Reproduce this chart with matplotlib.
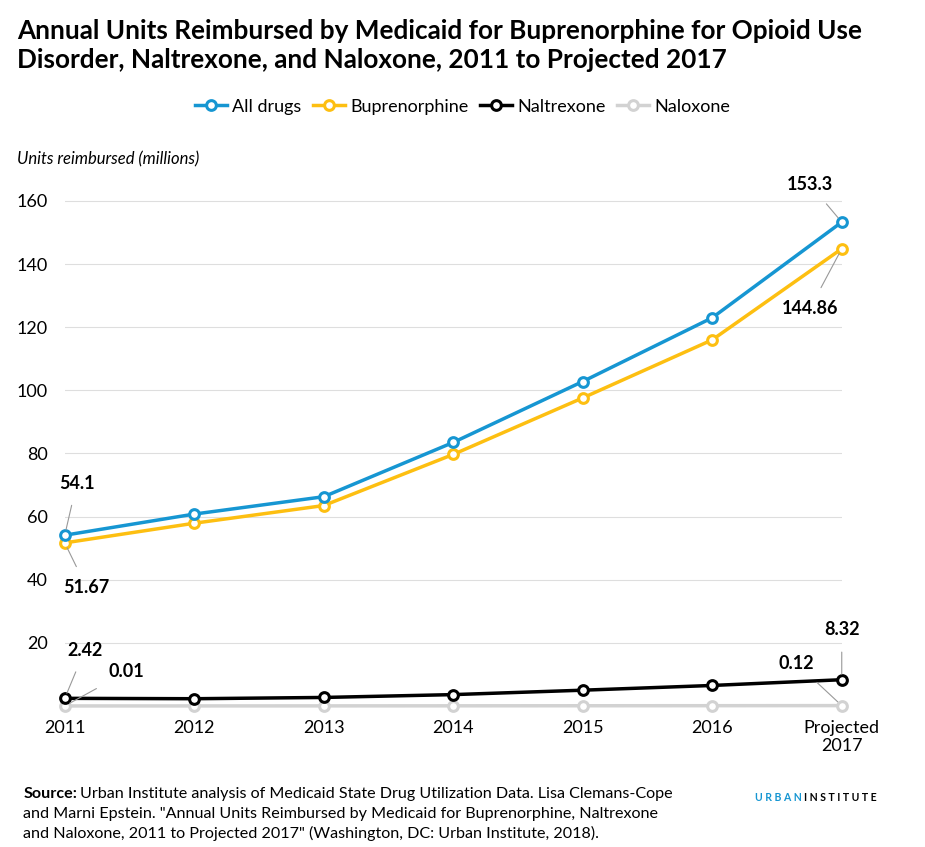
import matplotlib
matplotlib.use("Agg")
import matplotlib.pyplot as plt

years = ["2011", "2012", "2013", "2014", "2015", "2016", "Projected\n2017"]
all_drugs = [54.1, 60.8, 66.3, 83.5, 102.8, 123.0, 153.3]
bupren = [51.67, 57.9, 63.5, 79.7, 97.6, 116.0, 144.86]
naltrex = [2.42, 2.3, 2.7, 3.6, 5.0, 6.5, 8.32]
naloxone = [0.01, 0.02, 0.03, 0.05, 0.07, 0.09, 0.12]

plt.rcParams['font.family'] = ['Lato', 'DejaVu Sans']
fig = plt.figure(figsize=(9.25, 8.47), dpi=100)
ax = fig.add_axes([0.070, 0.1665, 0.840, 0.6335])
x = list(range(len(years)))
series = [("All drugs", all_drugs, "#1696d2"), ("Buprenorphine", bupren, "#fdbf11"),
          ("Naltrexone", naltrex, "#000000"), ("Naloxone", naloxone, "#d2d2d2")]
for name, vals, c in series[::-1]:
    ax.plot(x, vals, color=c, lw=2.5, marker='o', ms=7, mfc='white', mec=c, mew=2.2,
            label=name, clip_on=False, zorder=3)
ax.set_xlim(0, 6)
ax.set_ylim(0, 170)
ax.set_yticks(range(20, 161, 20))
ax.set_xticks(x)
ax.set_xticklabels(years, fontsize=13)
ax.tick_params(axis='y', labelsize=13, length=0, pad=12)
ax.tick_params(axis='x', length=0, pad=10)
ax.grid(axis='y', color='#dedede', lw=0.8)
for s in ax.spines.values():
    s.set_visible(False)
ax.axhline(0, color='#dedede', lw=0.8, zorder=1)

h, l = ax.get_legend_handles_labels()
fig.legend(h[::-1], l[::-1], loc='center', bbox_to_anchor=(0.5, 0.874), ncol=4, frameon=False,
           fontsize=13, handlelength=1.8, columnspacing=0.6, handletextpad=0.3)

fig.text(0.018, 0.978, "Annual Units Reimbursed by Medicaid for Buprenorphine for Opioid Use\nDisorder, Naltrexone, and Naloxone, 2011 to Projected 2017",
         fontsize=18.8, fontweight='bold', va='top', linespacing=1.25)
fig.text(0.018, 0.806, "Units reimbursed (millions)", fontsize=12, style='italic')

def ann(xi, yi, txt, tx, ty):
    ax.annotate(txt, (xi, yi), xytext=(tx, ty), textcoords='offset pixels', fontsize=13,
                fontweight='bold', ha='center', va='center',
                arrowprops=dict(arrowstyle='-', color='#999999', lw=0.8, shrinkA=8, shrinkB=4))
ann(0, all_drugs[0], "54.1", 12, 52)
ann(0, bupren[0], "51.67", 22, -45)
ann(0, naltrex[0], "2.42", 20, 48)
ann(0, naloxone[0], "0.01", 62, 34)
ann(6, all_drugs[6], "153.3", -32, 38)
ann(6, bupren[6], "144.86", -32, -60)
ann(6, naltrex[6], "8.32", 0, 50)
ann(6, naloxone[6], "0.12", -45, 42)

fs = 11.6
src = fig.text(0.025, 0.058, "Source:", fontsize=fs, fontweight='bold', va='baseline')
fig.canvas.draw()
bb = src.get_window_extent()
fig.text(bb.x1 / fig.bbox.width + 0.003, 0.058,
         "Urban Institute analysis of Medicaid State Drug Utilization Data. Lisa Clemans-Cope",
         fontsize=fs, va='baseline')
fig.text(0.025, 0.058 - 0.0235, "and Marni Epstein. \"Annual Units Reimbursed by Medicaid for Buprenorphine, Naltrexone",
         fontsize=fs, va='baseline')
fig.text(0.025, 0.058 - 0.047, "and Naloxone, 2011 to Projected 2017\" (Washington, DC: Urban Institute, 2018).",
         fontsize=fs, va='baseline')
t1 = fig.text(0.816, 0.059, "U R B A N", fontsize=7.6, fontweight='bold', color='#1696d2', ha='left', va='center')
fig.canvas.draw()
bb = t1.get_window_extent()
fig.text(bb.x1 / fig.bbox.width + 0.003, 0.059, "I N S T I T U T E", fontsize=7.6, fontweight='bold', color='#000000', ha='left', va='center')
fig.savefig("out.png", dpi=100, facecolor='white')
